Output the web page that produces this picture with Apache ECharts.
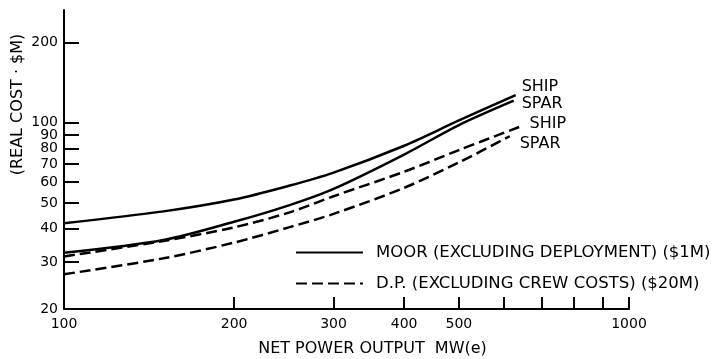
<!DOCTYPE html>
<html>
<head>
<meta charset="utf-8">
<script src="https://cdn.jsdelivr.net/npm/echarts@6/dist/echarts.min.js"></script>
<style>html,body{margin:0;padding:0;background:#fff}#c{width:726px;height:359px}</style>
</head>
<body>
<div id="c"></div>
<script>
// ---- data (log-log chart) ----
const moorShipMW   = [100, 150, 200, 250, 300, 400, 500, 630];
const moorShipCost = [42, 46.5, 51.5, 58, 65, 82, 102, 127];
const moorSparMW   = [100, 150, 200, 250, 300, 400, 500, 625];
const moorSparCost = [32.5, 36.3, 42.5, 49, 56.5, 76, 98, 121];
const dpShipMW     = [100, 150, 200, 250, 300, 400, 500, 640];
const dpShipCost   = [31.5, 36, 40.5, 46, 53, 65.5, 79, 96.5];
const dpSparMW     = [100, 150, 200, 250, 300, 400, 500, 615];
const dpSparCost   = [27, 31, 35.5, 40.5, 45.5, 57, 71, 89];

const xLabelValues = [100, 200, 300, 400, 500, 1000];
const xTickValues  = [200, 300, 400, 500, 600, 700, 800, 900, 1000];
const yLabelValues = [20, 30, 40, 50, 60, 70, 80, 90, 100, 200];
const yTickValues  = [30, 40, 50, 60, 70, 80, 90, 100, 200];

const moorName = 'MOOR (EXCLUDING DEPLOYMENT) ($1M)';
const dpName   = 'D.P. (EXCLUDING CREW COSTS) ($20M)';
const FONT = 'DejaVu Sans';

function pairs(xs, ys) { return xs.map((x, i) => [x, ys[i]]); }

function curve(name, xs, ys, dashed, label, offset) {
  return {
    type: 'line', name: name, data: pairs(xs, ys),
    smooth: 0.3, symbol: 'none', showSymbol: false,
    itemStyle: { color: '#000' },
    lineStyle: { color: '#000', width: 2.5, type: dashed ? [11, 5] : 'solid' },
    endLabel: { show: true, formatter: label, color: '#000', fontSize: 16, fontFamily: FONT,
                distance: 0, offset: offset },
    z: 3
  };
}

const chart = echarts.init(document.getElementById('c'), null, { renderer: 'canvas' });
chart.setOption({
  animation: false,
  backgroundColor: '#fff',
  grid: { left: 64, right: 97, top: 10, bottom: 50, containLabel: false, outerBoundsMode: 'none' },
  xAxis: {
    type: 'log', logBase: 10, min: 100, max: 1000,
    name: 'NET POWER OUTPUT  MW(e)', nameLocation: 'middle', nameGap: 32,
    nameMoveOverlap: false,
    nameTextStyle: { color: '#000', fontSize: 16, fontFamily: FONT, padding: [0, 0, 0, 52] },
    axisLine: { show: true, lineStyle: { color: '#000', width: 2 } },
    axisTick: { show: true, inside: true, length: 12, customValues: xTickValues,
                lineStyle: { color: '#000', width: 2 } },
    axisLabel: { show: true, customValues: xLabelValues, color: '#000', fontSize: 14,
                 fontFamily: FONT, margin: 8, formatter: v => String(v) },
    splitLine: { show: false }, minorTick: { show: false }, minorSplitLine: { show: false }
  },
  yAxis: {
    type: 'log', logBase: 10, min: 20, max: 265,
    name: '(REAL COST · $M)', nameLocation: 'middle', nameGap: 38, nameRotate: 90,
    nameMoveOverlap: false,
    nameTextStyle: { color: '#000', fontSize: 16, fontFamily: FONT, padding: [0, 0, 0, 110] },
    axisLine: { show: true, lineStyle: { color: '#000', width: 2 } },
    axisTick: { show: true, inside: true, length: 15, customValues: yTickValues,
                lineStyle: { color: '#000', width: 2 } },
    axisLabel: { show: true, customValues: yLabelValues, color: '#000', fontSize: 14,
                 fontFamily: FONT, margin: 6, hideOverlap: false, formatter: v => String(v) },
    splitLine: { show: false }, minorTick: { show: false }, minorSplitLine: { show: false }
  },
  legend: {
    orient: 'vertical', left: 295, top: 244, padding: 0,
    itemWidth: 67, itemHeight: 16, itemGap: 14,
    data: [moorName, dpName],
    itemStyle: { opacity: 0, color: 'transparent', borderWidth: 0 },
    textStyle: { color: '#000', fontSize: 16.5, fontFamily: FONT, lineHeight: 16, padding: [0, 0, 0, 8] },
    inactiveColor: '#000', selectedMode: false
  },
  series: [
    curve(moorName, moorShipMW, moorShipCost, false, 'SHIP', [6, -8]),
    curve(moorName, moorSparMW, moorSparCost, false, 'SPAR', [8, 3]),
    curve(dpName, dpShipMW, dpShipCost, true, 'SHIP', [10, -3]),
    curve(dpName, dpSparMW, dpSparCost, true, 'SPAR', [10, 8])
  ]
});
</script>
</body>
</html>
